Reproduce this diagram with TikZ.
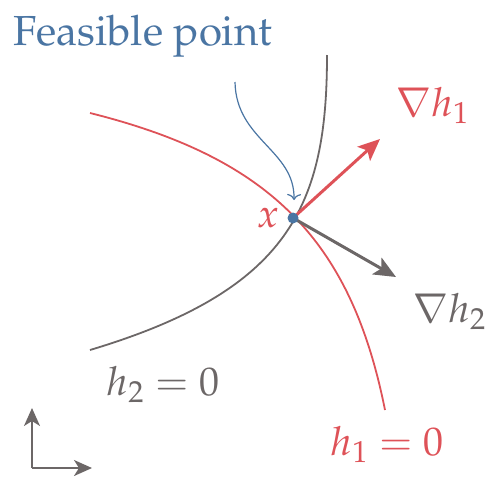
\documentclass[tikz,border=0pt]{standalone}
\usepackage[T1]{fontenc}
\usepackage{mathpazo}
\usetikzlibrary{arrows.meta}
\definecolor{cblue}{RGB}{74,117,163}
\definecolor{cred}{RGB}{222,82,88}
\definecolor{cgray}{RGB}{108,103,103}
\tikzset{
  lbl/.style={inner sep=0pt, font=\fontsize{40}{48}\selectfont},
  curve/.style={line width=1.8pt},
  vec/.style={line width=3pt, -{Stealth[length=22pt,width=19pt,inset=5pt]}},
  ax/.style={line width=2pt, -{Stealth[length=18pt,width=16pt,inset=5pt]}},
}
\begin{document}
\begin{tikzpicture}[x=1pt,y=-1pt]
\useasboundingbox (0,0) rectangle (497,479);
\coordinate (P) at (293,218);
% red constraint curve
\coordinate (r0) at (90,113);
\coordinate (r1) at (385,410);
\draw[curve, cred] (r0) .. controls (270,158) and (351,240) .. (r1);
% gray constraint curve
\coordinate (g0) at (90,350);
\coordinate (g1) at (327,55);
\draw[curve, cgray] (g0) .. controls (290,290) and (327,205) .. (g1);
% gradient vectors
\coordinate (R) at (380,139);
\coordinate (G) at (396,277);
\draw[vec, cred] (P) -- (R);
\draw[vec, cgray] (P) -- (G);
% feasible point annotation
\node[lbl, cblue, anchor=base west, font=\fontsize{42}{50}\selectfont] (fp) at (13,45) {Feasible point};
\coordinate (bs) at (235,82);
\coordinate (be) at (294,200);
\draw[cblue, line width=1.2pt, -{To[length=6pt,width=14pt]}] (bs) .. controls (236,140) and (295,150) .. (be);
\fill[cblue] (P) circle (5.5pt);
% labels
\node[lbl, cred, anchor=base east] (xl) at (280,227) {$x$};
\node[lbl, cred, anchor=base west] (g1l) at (396,116) {$\nabla h_1$};
\node[lbl, cgray, anchor=base west] (g2l) at (413,322) {$\nabla h_2$};
\node[lbl, cgray, anchor=base west] (l2) at (107,395) {$h_2 = 0$};
\node[lbl, cred, anchor=base west] (l1) at (331,455) {$h_1 = 0$};
% axes
\coordinate (O) at (32,468);
\coordinate (Ay) at (32,408);
\coordinate (Ax) at (92,468);
\draw[ax, cgray] (O) -- (Ay);
\draw[ax, cgray] (O) -- (Ax);
\end{tikzpicture}
\end{document}
